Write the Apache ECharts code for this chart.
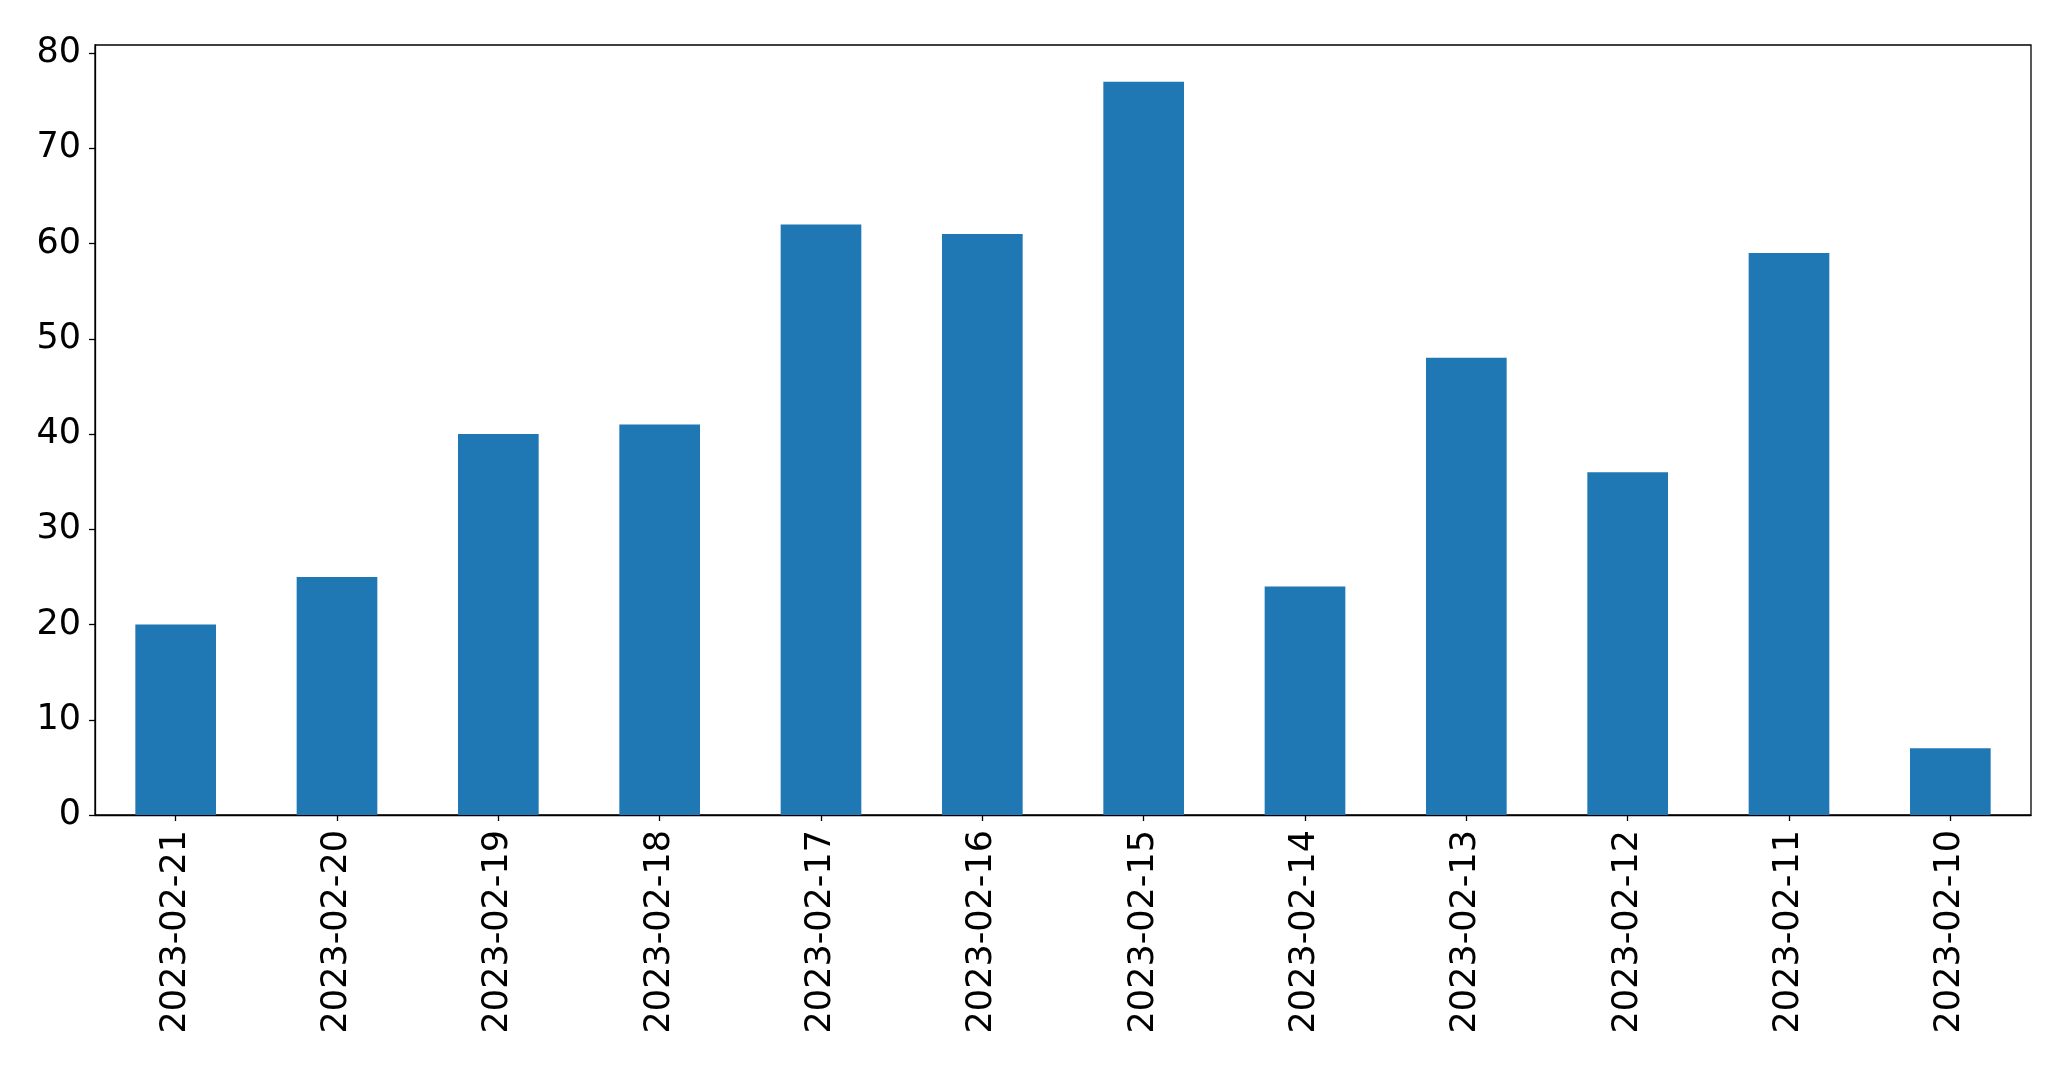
<!DOCTYPE html>
<html>
<head>
<meta charset="utf-8">
<script src="https://cdn.jsdelivr.net/npm/echarts@6/dist/echarts.min.js"></script>
<style>
html,body{margin:0;padding:0;background:#fff;}
#chart{width:2071px;height:1067px;}
</style>
</head>
<body>
<div id="chart"></div>
<script>
const categories = ['2023-02-21','2023-02-20','2023-02-19','2023-02-18','2023-02-17','2023-02-16','2023-02-15','2023-02-14','2023-02-13','2023-02-12','2023-02-11','2023-02-10'];
const values = [20, 25, 40, 41, 62, 61, 77, 24, 48, 36, 59, 7];
const yTicks = [0, 10, 20, 30, 40, 50, 60, 70, 80];
const yMax = 80.85;

const chart = echarts.init(document.getElementById('chart'), null, {renderer: 'canvas'});
const font = 'DejaVu Sans';
chart.setOption({
  animation: false,
  backgroundColor: '#ffffff',
  grid: {
    left: 95, right: 40, top: 45, bottom: 252,
    show: true, borderColor: '#000', borderWidth: 1.3, backgroundColor: 'transparent'
  },
  xAxis: {
    type: 'category',
    data: categories,
    boundaryGap: true,
    axisLine: {show: true, lineStyle: {color: '#000', width: 1.3}},
    axisTick: {show: true, alignWithLabel: true, length: 6, lineStyle: {color: '#000', width: 1.3}},
    axisLabel: {rotate: 90, margin: 15, fontSize: 35, fontFamily: font, color: '#000', interval: 0},
    splitLine: {show: false}
  },
  yAxis: {
    type: 'value',
    min: 0,
    max: yMax,
    interval: 10,
    axisLine: {show: true, lineStyle: {color: '#000', width: 1.3}},
    axisTick: {show: true, length: 6, customValues: yTicks, lineStyle: {color: '#000', width: 1.3}},
    axisLabel: {margin: 14, fontSize: 35, fontFamily: font, color: '#000', customValues: yTicks},
    splitLine: {show: false}
  },
  series: [{
    type: 'bar',
    data: values,
    barWidth: '50%',
    itemStyle: {color: '#1f77b4'}
  }]
});
</script>
</body>
</html>
